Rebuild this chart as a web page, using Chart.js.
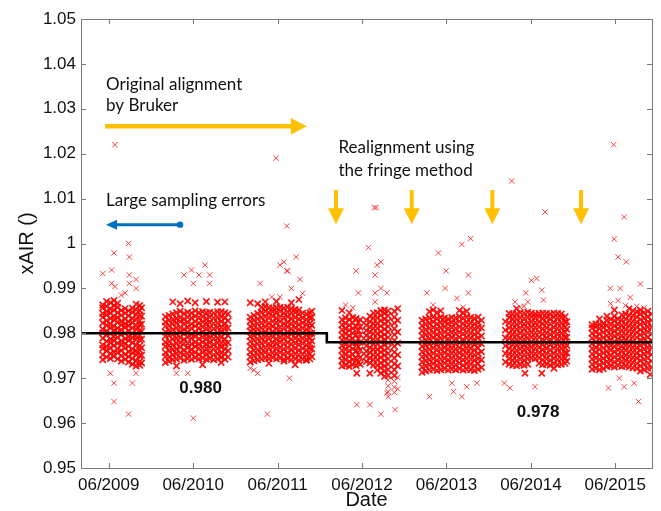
<!DOCTYPE html>
<html><head><meta charset="utf-8">
<script src="https://cdn.jsdelivr.net/npm/chart.js@4.4.1/dist/chart.umd.min.js"></script>
<style>html,body{margin:0;padding:0;background:#fff;}canvas{display:block;}</style>
</head><body>
<canvas id="c" width="661" height="511"></canvas>
<script>
// ---------- DATA (decimal year, xAIR) ----------
const xTickDates = [2009.4167, 2010.4167, 2011.4167, 2012.4167, 2013.4167, 2014.4167, 2015.4167];
const xTickLabels = ['06/2009','06/2010','06/2011','06/2012','06/2013','06/2014','06/2015'];
const yTickValues = [0.95,0.96,0.97,0.98,0.99,1.00,1.01,1.02,1.03,1.04,1.05];
const yTickLabels = ['0.95','0.96','0.97','0.98','0.99','1','1.01','1.02','1.03','1.04','1.05'];

const alignLevels = [0.980, 0.978];
const alignChange = 2012.0;
const realignDates = [2012.109, 2013.006, 2013.961, 2015.011];

const days2009 = [2009.346, 2009.391, 2009.437, 2009.452, 2009.479, 2009.491, 2009.522, 2009.566, 2009.611, 2009.652, 2009.661, 2009.697, 2009.741, 2009.784, 2009.806];
const xair2009 = [
 [0.9741,0.9752,0.9766,0.9774,0.9789,0.9801,0.9809,0.9823,0.9836,0.9844,0.9857,0.9863,0.9933],
 [0.9747,0.9761,0.9770,0.9782,0.9796,0.9805,0.9818,0.9828,0.9841,0.9849,0.9860,0.9871],
 [0.9744,0.9755,0.9768,0.9779,0.9787,0.9799,0.9812,0.9820,0.9833,0.9845,0.9854,0.9868,0.9711],
 [0.9941,0.9911],
 [0.9749,0.9758,0.9773,0.9784,0.9793,0.9807,0.9816,0.9830,0.9838,0.9852,0.9862,0.9873,0.9979,0.9689,0.9648],
 [0.9904,1.0220],
 [0.9743,0.9757,0.9765,0.9778,0.9791,0.9802,0.9811,0.9825,0.9835,0.9846,0.9858,0.9867],
 [0.9738,0.9750,0.9762,0.9775,0.9783,0.9797,0.9808,0.9819,0.9827,0.9840,0.9851,0.9885],
 [0.9742,0.9753,0.9767,0.9776,0.9788,0.9800,0.9813,0.9821,0.9832,0.9845,0.9855,0.9890],
 [0.9736,0.9748,0.9759,0.9771,0.9784,0.9792,0.9806,0.9817,0.9826,0.9839,0.9850,1.0000,0.9620],
 [0.9970,0.9930,0.9911],
 [0.9731,0.9744,0.9756,0.9765,0.9779,0.9790,0.9799,0.9812,0.9824,0.9833,0.9847,0.9856,0.9689],
 [0.9727,0.9739,0.9752,0.9761,0.9774,0.9786,0.9795,0.9809,0.9818,0.9831,0.9842,0.9853,0.9865,0.9711,0.9920,0.9900],
 [0.9729,0.9737,0.9750,0.9763,0.9772,0.9785,0.9796,0.9806,0.9819,0.9828,0.9841,0.9851,0.9862],
 [0.9734,0.9751,0.9768,0.9787,0.9804,0.9820,0.9838,0.9857]
];

const days2010 = [2010.088, 2010.131, 2010.176, 2010.219, 2010.263, 2010.309, 2010.352, 2010.397, 2010.419, 2010.441, 2010.486, 2010.529, 2010.558, 2010.574, 2010.612, 2010.661, 2010.706, 2010.749, 2010.793, 2010.830];
const xair2010 = [
 [0.9735,0.9748,0.9757,0.9771,0.9780,0.9794,0.9803,0.9816,0.9825,0.9837],
 [0.9738,0.9747,0.9761,0.9773,0.9782,0.9795,0.9807,0.9817,0.9829,0.9840],
 [0.9741,0.9752,0.9764,0.9774,0.9787,0.9798,0.9808,0.9821,0.9830,0.9843,0.9870],
 [0.9743,0.9755,0.9765,0.9778,0.9789,0.9799,0.9812,0.9823,0.9833,0.9846,0.9711,0.9727],
 [0.9745,0.9756,0.9769,0.9779,0.9790,0.9803,0.9812,0.9826,0.9835,0.9849,0.9866],
 [0.9740,0.9753,0.9763,0.9777,0.9786,0.9800,0.9809,0.9822,0.9832,0.9844,0.9930],
 [0.9744,0.9754,0.9768,0.9777,0.9791,0.9801,0.9813,0.9824,0.9836,0.9847,0.9711,0.9872],
 [0.9742,0.9755,0.9764,0.9776,0.9789,0.9798,0.9811,0.9821,0.9834,0.9845,0.9941],
 [0.9911,0.9611],
 [0.9746,0.9757,0.9770,0.9780,0.9793,0.9803,0.9816,0.9826,0.9838,0.9850,0.9868],
 [0.9743,0.9753,0.9767,0.9776,0.9788,0.9800,0.9812,0.9823,0.9835,0.9846,0.9930],
 [0.9745,0.9757,0.9767,0.9780,0.9791,0.9802,0.9814,0.9825,0.9837,0.9848,0.9730],
 [0.9952],
 [0.9742,0.9754,0.9766,0.9776,0.9789,0.9799,0.9811,0.9823,0.9833,0.9846,0.9871],
 [0.9744,0.9756,0.9767,0.9779,0.9790,0.9802,0.9812,0.9824,0.9836,0.9847,0.9930,0.9911],
 [0.9741,0.9752,0.9765,0.9775,0.9788,0.9798,0.9810,0.9822,0.9834,0.9845],
 [0.9743,0.9755,0.9766,0.9779,0.9789,0.9801,0.9813,0.9823,0.9835,0.9848,0.9869],
 [0.9746,0.9756,0.9769,0.9778,0.9791,0.9803,0.9813,0.9826,0.9837,0.9848,0.9735],
 [0.9742,0.9754,0.9765,0.9778,0.9787,0.9800,0.9812,0.9822,0.9834,0.9846,0.9870],
 [0.9747,0.9761,0.9779,0.9795,0.9812,0.9828,0.9843]
];

const days2011 = [2011.093, 2011.137, 2011.181, 2011.210, 2011.226, 2011.270, 2011.296, 2011.314, 2011.348, 2011.359, 2011.399, 2011.403, 2011.446, 2011.492, 2011.526, 2011.536, 2011.557, 2011.580, 2011.625, 2011.636, 2011.669, 2011.683, 2011.713, 2011.758, 2011.800, 2011.822];
const xair2011 = [
 [0.9736,0.9748,0.9758,0.9771,0.9782,0.9793,0.9805,0.9815,0.9827,0.9836,0.9722,0.9868],
 [0.9739,0.9750,0.9762,0.9773,0.9785,0.9795,0.9808,0.9818,0.9829,0.9840,0.9718],
 [0.9741,0.9753,0.9763,0.9776,0.9787,0.9799,0.9809,0.9821,0.9832,0.9844,0.9711,0.9866],
 [0.9911],
 [0.9743,0.9755,0.9766,0.9778,0.9789,0.9801,0.9812,0.9823,0.9835,0.9847,0.9858],
 [0.9745,0.9757,0.9767,0.9780,0.9791,0.9802,0.9814,0.9825,0.9837,0.9849,0.9859,0.9870],
 [0.9620],
 [0.9744,0.9754,0.9768,0.9777,0.9790,0.9800,0.9813,0.9823,0.9836,0.9846,0.9857,0.9733],
 [0.9881],
 [0.9746,0.9756,0.9769,0.9779,0.9792,0.9803,0.9815,0.9826,0.9838,0.9848,0.9856],
 [1.0190],
 [0.9743,0.9755,0.9766,0.9778,0.9788,0.9801,0.9811,0.9824,0.9834,0.9847,0.9857,0.9871],
 [0.9745,0.9757,0.9768,0.9780,0.9790,0.9803,0.9813,0.9826,0.9836,0.9849,0.9858,0.9952,0.9881],
 [0.9742,0.9754,0.9765,0.9777,0.9789,0.9799,0.9812,0.9822,0.9835,0.9845,0.9856,0.9959,0.9738],
 [0.9939,1.0039],
 [0.9744,0.9756,0.9767,0.9779,0.9791,0.9801,0.9814,0.9824,0.9837,0.9847,0.9858,0.9939],
 [0.9700],
 [0.9741,0.9753,0.9764,0.9776,0.9787,0.9800,0.9810,0.9822,0.9833,0.9846,0.9855,0.9900,0.9868],
 [0.9743,0.9754,0.9766,0.9778,0.9789,0.9800,0.9812,0.9823,0.9835,0.9846,0.9853,0.9730],
 [0.9970],
 [0.9740,0.9752,0.9763,0.9775,0.9786,0.9798,0.9809,0.9820,0.9832,0.9843,0.9852,0.9875],
 [0.9920],
 [0.9742,0.9753,0.9766,0.9777,0.9788,0.9800,0.9811,0.9823,0.9834,0.9845,0.9889],
 [0.9740,0.9752,0.9763,0.9774,0.9786,0.9797,0.9809,0.9820,0.9831,0.9843,0.9741],
 [0.9743,0.9754,0.9767,0.9776,0.9789,0.9799,0.9812,0.9822,0.9834,0.9846],
 [0.9748,0.9765,0.9783,0.9800,0.9818,0.9835,0.9849]
];

const days2012 = [2012.180, 2012.222, 2012.265, 2012.308, 2012.347, 2012.355, 2012.374, 2012.395, 2012.468, 2012.493, 2012.510, 2012.553, 2012.562, 2012.572, 2012.585, 2012.596, 2012.640, 2012.683, 2012.711, 2012.726, 2012.800, 2012.809, 2012.840];
const xair2012 = [
 [0.9727,0.9739,0.9750,0.9762,0.9773,0.9785,0.9796,0.9808,0.9819,0.9830,0.9851],
 [0.9729,0.9741,0.9752,0.9764,0.9775,0.9787,0.9799,0.9810,0.9822,0.9834,0.9863],
 [0.9726,0.9737,0.9749,0.9761,0.9772,0.9784,0.9795,0.9807,0.9818,0.9831,0.9846],
 [0.9730,0.9742,0.9753,0.9765,0.9777,0.9788,0.9800,0.9811,0.9823,0.9835,0.9857],
 [0.9939,0.9728,0.9744,0.9761,0.9779,0.9797,0.9815,0.9833],
 [0.9641,0.9711],
 [0.9890,0.9735,0.9752,0.9770,0.9788,0.9806,0.9824],
 [0.9731,0.9746,0.9763,0.9780,0.9797,0.9814,0.9830],
 [0.9737,0.9749,0.9760,0.9772,0.9783,0.9795,0.9806,0.9818,0.9829],
 [0.9991],
 [0.9734,0.9745,0.9757,0.9768,0.9780,0.9791,0.9803,0.9814,0.9826,0.9838,0.9711,0.9641],
 [0.9729,0.9741,0.9752,0.9764,0.9776,0.9787,0.9799,0.9811,0.9822,0.9834,0.9845],
 [1.0080],
 [0.9930,0.9890,0.9870],
 [1.0080],
 [0.9718,0.9729,0.9741,0.9752,0.9764,0.9776,0.9787,0.9799,0.9811,0.9822,0.9834,0.9846,0.9952],
 [0.9711,0.9723,0.9734,0.9746,0.9758,0.9769,0.9781,0.9793,0.9804,0.9816,0.9828,0.9840,0.9851,0.9959,0.9900,0.9620],
 [0.9704,0.9716,0.9727,0.9739,0.9751,0.9762,0.9774,0.9786,0.9797,0.9809,0.9821,0.9832,0.9844,0.9852],
 [0.9890,0.9667],
 [0.9696,0.9706,0.9719,0.9731,0.9743,0.9755,0.9767,0.9779,0.9791,0.9803,0.9815,0.9827,0.9839,0.9850,0.9683,0.9670,0.9659],
 [0.9668,0.9680,0.9693,0.9706,0.9719,0.9732,0.9745,0.9758,0.9771,0.9784,0.9797,0.9810,0.9823,0.9836,0.9849],
 [0.9630],
 [0.9676,0.9702,0.9727,0.9752,0.9778,0.9803,0.9829,0.9855]
];

const days2013 = [2013.128, 2013.172, 2013.184, 2013.215, 2013.260, 2013.305, 2013.322, 2013.349, 2013.393, 2013.401, 2013.413, 2013.437, 2013.481, 2013.500, 2013.526, 2013.540, 2013.570, 2013.599, 2013.614, 2013.658, 2013.677, 2013.703, 2013.747, 2013.777, 2013.791, 2013.832];
const xair2013 = [
 [0.9713,0.9725,0.9736,0.9748,0.9759,0.9771,0.9782,0.9794,0.9806,0.9817,0.9829],
 [0.9716,0.9727,0.9739,0.9750,0.9762,0.9774,0.9785,0.9797,0.9808,0.9820,0.9832],
 [0.9890],
 [0.9718,0.9730,0.9741,0.9753,0.9764,0.9776,0.9788,0.9799,0.9811,0.9822,0.9834,0.9848,0.9659],
 [0.9720,0.9732,0.9743,0.9755,0.9767,0.9778,0.9790,0.9801,0.9813,0.9825,0.9836,0.9852,0.9863],
 [0.9717,0.9729,0.9740,0.9752,0.9764,0.9775,0.9787,0.9798,0.9810,0.9821,0.9833,0.9846],
 [0.9979],
 [0.9719,0.9731,0.9742,0.9754,0.9765,0.9777,0.9789,0.9800,0.9812,0.9824,0.9835,0.9850],
 [0.9721,0.9733,0.9744,0.9756,0.9768,0.9779,0.9791,0.9802,0.9814,0.9825,0.9834],
 [0.9900],
 [0.9939],
 [0.9718,0.9730,0.9741,0.9753,0.9765,0.9776,0.9788,0.9799,0.9811,0.9822,0.9832],
 [0.9720,0.9731,0.9743,0.9755,0.9766,0.9778,0.9790,0.9801,0.9813,0.9824,0.9835,0.9689],
 [0.9670],
 [0.9719,0.9730,0.9742,0.9754,0.9765,0.9777,0.9788,0.9800,0.9811,0.9823,0.9834],
 [0.9878],
 [0.9721,0.9733,0.9744,0.9756,0.9767,0.9779,0.9791,0.9802,0.9814,0.9826,0.9837,0.9851],
 [0.9998,0.9659],
 [0.9718,0.9729,0.9741,0.9753,0.9764,0.9776,0.9787,0.9799,0.9811,0.9822,0.9834,0.9846,0.9858],
 [0.9720,0.9732,0.9743,0.9755,0.9766,0.9778,0.9790,0.9801,0.9813,0.9824,0.9836,0.9849,0.9681],
 [0.9930,0.9890],
 [0.9719,0.9731,0.9742,0.9754,0.9766,0.9777,0.9789,0.9800,0.9812,0.9823,0.9835,1.0011],
 [0.9717,0.9728,0.9740,0.9752,0.9763,0.9775,0.9786,0.9798,0.9810,0.9821,0.9833],
 [0.9689],
 [0.9720,0.9732,0.9743,0.9755,0.9767,0.9778,0.9790,0.9801,0.9813,0.9824,0.9836],
 [0.9724,0.9741,0.9759,0.9777,0.9794,0.9812,0.9829]
];

const days2014 = [2014.103, 2014.115, 2014.159, 2014.170, 2014.190, 2014.203, 2014.229, 2014.247, 2014.291, 2014.336, 2014.347, 2014.356, 2014.380, 2014.424, 2014.466, 2014.468, 2014.486, 2014.513, 2014.546, 2014.557, 2014.566, 2014.584, 2014.601, 2014.645, 2014.690, 2014.734, 2014.778, 2014.822, 2014.843];
const xair2014 = [
 [0.9689],
 [0.9736,0.9755,0.9772,0.9790,0.9807,0.9826],
 [0.9731,0.9743,0.9754,0.9766,0.9777,0.9789,0.9800,0.9812,0.9823,0.9835,0.9844],
 [0.9678],
 [1.0139],
 [0.9729,0.9740,0.9752,0.9763,0.9775,0.9786,0.9798,0.9809,0.9821,0.9832,0.9843],
 [0.9870],
 [0.9728,0.9739,0.9751,0.9762,0.9774,0.9786,0.9797,0.9809,0.9820,0.9832,0.9843,0.9855],
 [0.9730,0.9742,0.9753,0.9765,0.9776,0.9788,0.9800,0.9811,0.9823,0.9834,0.9846,0.9858],
 [0.9729,0.9740,0.9752,0.9764,0.9775,0.9787,0.9798,0.9810,0.9821,0.9833,0.9845,0.9860],
 [0.9711],
 [0.9890],
 [0.9731,0.9743,0.9754,0.9766,0.9777,0.9789,0.9800,0.9812,0.9823,0.9835,0.9847,0.9870],
 [0.9745,0.9756,0.9768,0.9779,0.9791,0.9802,0.9814,0.9825,0.9837,0.9845,0.9918],
 [0.9681],
 [0.9744,0.9755,0.9767,0.9778,0.9790,0.9801,0.9813,0.9824,0.9836,0.9843],
 [0.9922],
 [0.9733,0.9745,0.9756,0.9768,0.9779,0.9791,0.9802,0.9814,0.9825,0.9837,0.9844],
 [0.9896,0.9711],
 [0.9730,0.9741,0.9753,0.9764,0.9776,0.9787,0.9799,0.9810,0.9822,0.9833,0.9845],
 [0.9874],
 [1.0070],
 [0.9731,0.9743,0.9754,0.9766,0.9777,0.9789,0.9800,0.9812,0.9823,0.9835,0.9844],
 [0.9729,0.9740,0.9752,0.9763,0.9775,0.9786,0.9798,0.9809,0.9821,0.9832,0.9843],
 [0.9732,0.9744,0.9755,0.9767,0.9778,0.9790,0.9801,0.9813,0.9824,0.9836,0.9845,0.9722],
 [0.9730,0.9742,0.9753,0.9765,0.9776,0.9788,0.9799,0.9811,0.9822,0.9834,0.9844],
 [0.9731,0.9743,0.9754,0.9766,0.9777,0.9789,0.9800,0.9812,0.9823,0.9835,0.9843],
 [0.9733,0.9745,0.9756,0.9768,0.9779,0.9791,0.9802,0.9814,0.9825,0.9837],
 [0.9738,0.9756,0.9773,0.9791,0.9809,0.9826]
];

const days2015 = [2015.142, 2015.186, 2015.230, 2015.274, 2015.318, 2015.336, 2015.357, 2015.362, 2015.396, 2015.404, 2015.406, 2015.450, 2015.466, 2015.475, 2015.494, 2015.522, 2015.538, 2015.547, 2015.582, 2015.594, 2015.626, 2015.641, 2015.670, 2015.692, 2015.714, 2015.758, 2015.802, 2015.831, 2015.845];
const xair2015 = [
 [0.9720,0.9731,0.9743,0.9754,0.9766,0.9777,0.9789,0.9800,0.9812,0.9819],
 [0.9722,0.9734,0.9745,0.9757,0.9768,0.9780,0.9791,0.9803,0.9814,0.9821],
 [0.9719,0.9730,0.9742,0.9753,0.9765,0.9776,0.9788,0.9799,0.9811,0.9820,0.9832],
 [0.9721,0.9733,0.9744,0.9756,0.9767,0.9779,0.9790,0.9802,0.9813,0.9822],
 [0.9726,0.9737,0.9749,0.9760,0.9772,0.9783,0.9795,0.9806,0.9818,0.9829,0.9838],
 [0.9678],
 [0.9900],
 [0.9727,0.9739,0.9750,0.9762,0.9773,0.9785,0.9796,0.9808,0.9819,0.9831,0.9866],
 [1.0220],
 [1.0010],
 [0.9725,0.9736,0.9748,0.9759,0.9771,0.9782,0.9794,0.9805,0.9817,0.9828,0.9838,0.9852],
 [0.9728,0.9740,0.9751,0.9763,0.9774,0.9786,0.9797,0.9809,0.9820,0.9832,0.9970,0.9873],
 [0.9700],
 [0.9900],
 [0.9726,0.9738,0.9749,0.9761,0.9772,0.9784,0.9795,0.9807,0.9818,0.9830,0.9841],
 [1.0059,0.9681],
 [0.9727,0.9739,0.9750,0.9762,0.9773,0.9785,0.9796,0.9808,0.9819,0.9831,0.9843,0.9862],
 [0.9959],
 [0.9725,0.9736,0.9748,0.9759,0.9771,0.9782,0.9794,0.9805,0.9817,0.9828,0.9840,0.9855],
 [0.9880],
 [0.9723,0.9735,0.9746,0.9758,0.9769,0.9781,0.9792,0.9804,0.9815,0.9827,0.9839,0.9850],
 [0.9689],
 [0.9722,0.9733,0.9745,0.9756,0.9768,0.9779,0.9791,0.9802,0.9814,0.9825,0.9837,0.9848,0.9860],
 [0.9648],
 [0.9716,0.9727,0.9739,0.9750,0.9762,0.9773,0.9785,0.9797,0.9808,0.9820,0.9831,0.9843,0.9852,0.9910],
 [0.9719,0.9731,0.9742,0.9754,0.9765,0.9777,0.9788,0.9800,0.9811,0.9823,0.9834,0.9846,0.9856],
 [0.9722,0.9733,0.9745,0.9756,0.9768,0.9779,0.9791,0.9802,0.9814,0.9825,0.9837,0.9849],
 [0.9708],
 [0.9724,0.9738,0.9753,0.9768,0.9784,0.9799,0.9814,0.9829,0.9843]
];

// ---------- BUILD ----------
const XMIN = 2009.0885, XMAX = 2015.8515;
const periods = [[days2009,xair2009],[days2010,xair2010],[days2011,xair2011],[days2012,xair2012],[days2013,xair2013],[days2014,xair2014],[days2015,xair2015]];
const samples = [];
periods.forEach(([d, v]) => d.forEach((t, i) => v[i].forEach(val => samples.push({x: t, y: val}))));

const alignLine = [
  {x: XMIN, y: alignLevels[0]}, {x: alignChange, y: alignLevels[0]},
  {x: alignChange, y: alignLevels[1]}, {x: XMAX, y: alignLevels[1]}
];

// style only: points in the dense band around the alignment level are drawn heavier
function inCore(c) {
  const p = c.raw; if (!p) return false;
  const lvl = p.x < alignChange ? alignLevels[0] : alignLevels[1];
  return Math.abs(p.y - lvl) < 0.0076;
}

const ORANGE = '#FFC000', BLUE = '#0070C0';
const FONT = 'Arial, "Liberation Sans", sans-serif';
const notes = [
  {text: 'Original alignment', x: 2009.385, y: 1.0342},
  {text: 'by Bruker', x: 2009.385, y: 1.0294},
  {text: 'Large sampling errors', x: 2009.385, y: 1.0084},
  {text: 'Realignment using', x: 2012.137, y: 1.0202},
  {text: 'the fringe method', x: 2012.137, y: 1.0151}
];
const levelNotes = [
  {text: alignLevels[0].toFixed(3), x: 2010.253, y: 0.9666},
  {text: alignLevels[1].toFixed(3), x: 2014.251, y: 0.9614}
];

function hArrow(ctx, x0, x1, y, color, lw, hl, hw) {
  const dir = Math.sign(x1 - x0);
  ctx.strokeStyle = color; ctx.fillStyle = color; ctx.lineWidth = lw;
  ctx.beginPath(); ctx.moveTo(x0, y); ctx.lineTo(x1 - dir * hl * 0.8, y); ctx.stroke();
  ctx.beginPath(); ctx.moveTo(x1, y); ctx.lineTo(x1 - dir * hl, y - hw); ctx.lineTo(x1 - dir * hl, y + hw); ctx.closePath(); ctx.fill();
}
function vArrow(ctx, x, y0, y1, color, lw, hl, hw) {
  ctx.strokeStyle = color; ctx.fillStyle = color; ctx.lineWidth = lw;
  ctx.beginPath(); ctx.moveTo(x, y0); ctx.lineTo(x, y1 - hl * 0.8); ctx.stroke();
  ctx.beginPath(); ctx.moveTo(x, y1); ctx.lineTo(x - hw, y1 - hl); ctx.lineTo(x + hw, y1 - hl); ctx.closePath(); ctx.fill();
}

const deco = {
  id: 'deco',
  afterDatasetsDraw(chart) {
    const {ctx, scales: {x, y}} = chart;
    const X = v => x.getPixelForValue(v), Y = v => y.getPixelForValue(v);
    ctx.save();
    ctx.fillStyle = '#111';
    ctx.font = '17px Lato';
    ctx.textAlign = 'left'; ctx.textBaseline = 'alphabetic';
    notes.forEach(n => ctx.fillText(n.text, X(n.x), Y(n.y)));
    ctx.font = 'bold 17px ' + FONT;
    levelNotes.forEach(n => ctx.fillText(n.text, X(n.x), Y(n.y)));
    hArrow(ctx, X(2009.373), X(2011.763), Y(1.0261), ORANGE, 4.5, 16, 8.3);
    hArrow(ctx, X(2010.262), X(2009.385), Y(1.0042), BLUE, 3, 11, 5);
    ctx.fillStyle = BLUE;
    ctx.beginPath(); ctx.arc(X(2010.262), Y(1.0042), 3.2, 0, Math.PI * 2); ctx.fill();
    realignDates.forEach(d => vArrow(ctx, X(d), Y(1.0119), Y(1.0043), ORANGE, 4, 16, 8));
    ctx.restore();
  },
  afterDraw(chart) {
    const {ctx, chartArea: a, scales: {x, y}} = chart;
    ctx.save();
    ctx.strokeStyle = '#7a7a7a'; ctx.lineWidth = 1;
    ctx.strokeRect(Math.round(a.left) + 0.5, Math.round(a.top) + 0.5, Math.round(a.right - a.left), Math.round(a.bottom - a.top));
    const TL = 5;
    ctx.beginPath();
    xTickDates.forEach(v => {
      const px = Math.round(x.getPixelForValue(v)) + 0.5;
      ctx.moveTo(px, a.bottom); ctx.lineTo(px, a.bottom - TL);
      ctx.moveTo(px, a.top); ctx.lineTo(px, a.top + TL);
    });
    yTickValues.forEach(v => {
      const py = Math.round(y.getPixelForValue(v)) + 0.5;
      ctx.moveTo(a.left, py); ctx.lineTo(a.left + TL, py);
      ctx.moveTo(a.right, py); ctx.lineTo(a.right - TL, py);
    });
    ctx.stroke();
    ctx.restore();
  }
};

const tickFont = {family: FONT, size: 17};
new Chart(document.getElementById('c'), {
  type: 'scatter',
  data: {
    datasets: [
      {
        label: 'xAIR', data: samples, order: 2,
        pointStyle: 'crossRot',
        pointRadius: c => inCore(c) ? 4.4 : 3.8,
        pointHoverRadius: c => inCore(c) ? 4.4 : 3.8,
        borderWidth: c => inCore(c) ? 1.7 : 1,
        borderColor: c => inCore(c) ? 'rgba(255,0,0,0.92)' : 'rgba(255,20,20,0.8)',
        backgroundColor: 'rgba(255,0,0,0.8)'
      },
      {
        label: 'alignment', data: alignLine, order: 1, showLine: true,
        pointRadius: 0, borderColor: '#000', borderWidth: 2.6, fill: false, tension: 0
      }
    ]
  },
  options: {
    responsive: false, animation: false, devicePixelRatio: 1, events: [],
    layout: {padding: {top: 19, right: 9, left: 0, bottom: 0}},
    plugins: {legend: {display: false}, tooltip: {enabled: false}},
    scales: {
      x: {
        type: 'linear', min: XMIN, max: XMAX,
        grid: {display: false, drawTicks: false}, border: {display: false},
        afterBuildTicks: s => { s.ticks = xTickDates.map(v => ({value: v})); },
        afterFit: s => { s.height = 43; },
        ticks: {autoSkip: false, maxRotation: 0, padding: 7, color: '#111', font: tickFont,
                callback: (v, i) => xTickLabels[i]},
        title: {display: true, text: 'Date', color: '#111',
                font: {family: FONT, size: 20, lineHeight: 1.1},
                padding: {top: 0, bottom: 0}}
      },
      y: {
        type: 'linear', min: 0.95, max: 1.05,
        grid: {display: false, drawTicks: false}, border: {display: false},
        afterBuildTicks: s => { s.ticks = yTickValues.map(v => ({value: v})); },
        afterFit: s => { s.width = 81; },
        ticks: {padding: 5, color: '#111', font: tickFont, callback: (v, i) => yTickLabels[i]},
        title: {display: true, text: 'xAIR ()', color: '#111',
                font: {family: FONT, size: 20, lineHeight: 1.2},
                padding: {top: 15, bottom: 0}}
      }
    }
  },
  plugins: [deco]
});
</script>
</body></html>
